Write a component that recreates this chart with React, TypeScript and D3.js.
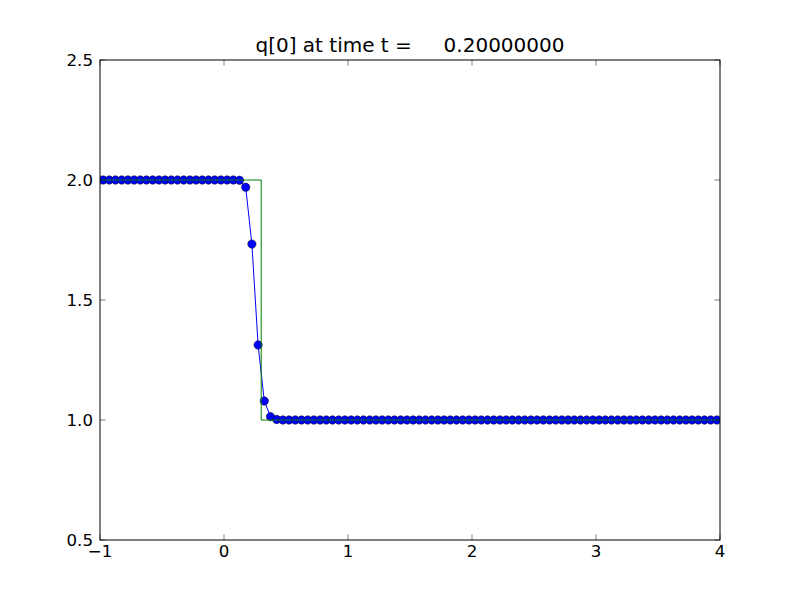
import React from "react";
import * as d3 from "d3";

// Computed solution q[0] at cell centres (100 cells on [-1, 4])
const xLower = -1;
const xUpper = 4;
const numCells = 100;
const qValues: number[] = [
  2.0, 2.0, 2.0, 2.0, 2.0, 2.0, 2.0, 2.0, 2.0, 2.0,
  2.0, 2.0, 2.0, 2.0, 2.0, 2.0, 2.0, 2.0, 2.0, 2.0,
  2.0, 2.0, 1.999, 1.970, 1.733, 1.3125, 1.079, 1.014, 1.002, 1.0,
  1.0, 1.0, 1.0, 1.0, 1.0, 1.0, 1.0, 1.0, 1.0, 1.0,
  1.0, 1.0, 1.0, 1.0, 1.0, 1.0, 1.0, 1.0, 1.0, 1.0,
  1.0, 1.0, 1.0, 1.0, 1.0, 1.0, 1.0, 1.0, 1.0, 1.0,
  1.0, 1.0, 1.0, 1.0, 1.0, 1.0, 1.0, 1.0, 1.0, 1.0,
  1.0, 1.0, 1.0, 1.0, 1.0, 1.0, 1.0, 1.0, 1.0, 1.0,
  1.0, 1.0, 1.0, 1.0, 1.0, 1.0, 1.0, 1.0, 1.0, 1.0,
  1.0, 1.0, 1.0, 1.0, 1.0, 1.0, 1.0, 1.0, 1.0, 1.0,
];

// Exact solution (step)
const exactX = [-1, 0.3, 0.3, 4];
const exactY = [2.0, 2.0, 1.0, 1.0];

const xTicks = [-1, 0, 1, 2, 3, 4];
const yTicks = [0.5, 1.0, 1.5, 2.0, 2.5];
const yTickLabels = ["0.5", "1.0", "1.5", "2.0", "2.5"];
const titleText = "q[0] at time t =     0.20000000";

export default function App() {
  const W = 800, H = 600;
  const L = 100, R = 720, T = 60, B = 540;
  const x = d3.scaleLinear().domain([xLower, xUpper]).range([L, R]);
  const y = d3.scaleLinear().domain([0.5, 2.5]).range([B, T]);
  const dx = (xUpper - xLower) / numCells;
  const centers = qValues.map((_, i) => xLower + (i + 0.5) * dx);
  const pts: [number, number][] = centers.map((c, i) => [c, qValues[i]]);
  const line = d3.line<[number, number]>().x(d => x(d[0])).y(d => y(d[1]));
  const exactPts: [number, number][] = exactX.map((v, i) => [v, exactY[i]]);
  const tick = 5.6;
  const font = "DejaVu Sans, sans-serif";
  return (
    <svg width={W} height={H} style={{ position: "fixed", left: 0, top: 0, background: "#fff" }}>
      <rect x={0} y={0} width={W} height={H} fill="#fff" />
      <defs>
        <clipPath id="plotclip">
          <rect x={L} y={T} width={R - L} height={B - T} />
        </clipPath>
      </defs>
      <g clipPath="url(#plotclip)">
        <path d={line(pts) || ""} fill="none" stroke="#0000ff" strokeWidth={1} />
        {pts.map((p, i) => (
          <circle key={i} cx={x(p[0])} cy={y(p[1])} r={4.17} fill="#0000ff" stroke="#000" strokeWidth={0.5} />
        ))}
        <path d={line(exactPts) || ""} fill="none" stroke="#008000" strokeWidth={1} />
      </g>
      <rect x={L} y={T} width={R - L} height={B - T} fill="none" stroke="#000" strokeWidth={1} />
      {xTicks.map(t => (
        <g key={"x" + t}>
          <line x1={x(t)} x2={x(t)} y1={B} y2={B - tick} stroke="#000" strokeWidth={0.5} />
          <line x1={x(t)} x2={x(t)} y1={T} y2={T + tick} stroke="#000" strokeWidth={0.5} />
          <text x={x(t)} y={557} textAnchor="middle" fontFamily={font} fontSize={16.67} fill="#000">
            {t < 0 ? "\u2212" + Math.abs(t) : String(t)}
          </text>
        </g>
      ))}
      {yTicks.map((t, i) => (
        <g key={"y" + t}>
          <line x1={L} x2={L + tick} y1={y(t)} y2={y(t)} stroke="#000" strokeWidth={0.5} />
          <line x1={R} x2={R - tick} y1={y(t)} y2={y(t)} stroke="#000" strokeWidth={0.5} />
          <text x={93} y={y(t) + 6} textAnchor="end" fontFamily={font} fontSize={16.67} fill="#000">
            {yTickLabels[i]}
          </text>
        </g>
      ))}
      <text x={(L + R) / 2} y={52} textAnchor="middle" fontFamily={font} fontSize={20} fill="#000" style={{ whiteSpace: "pre" }} xmlSpace="preserve">
        {titleText}
      </text>
    </svg>
  );
}
